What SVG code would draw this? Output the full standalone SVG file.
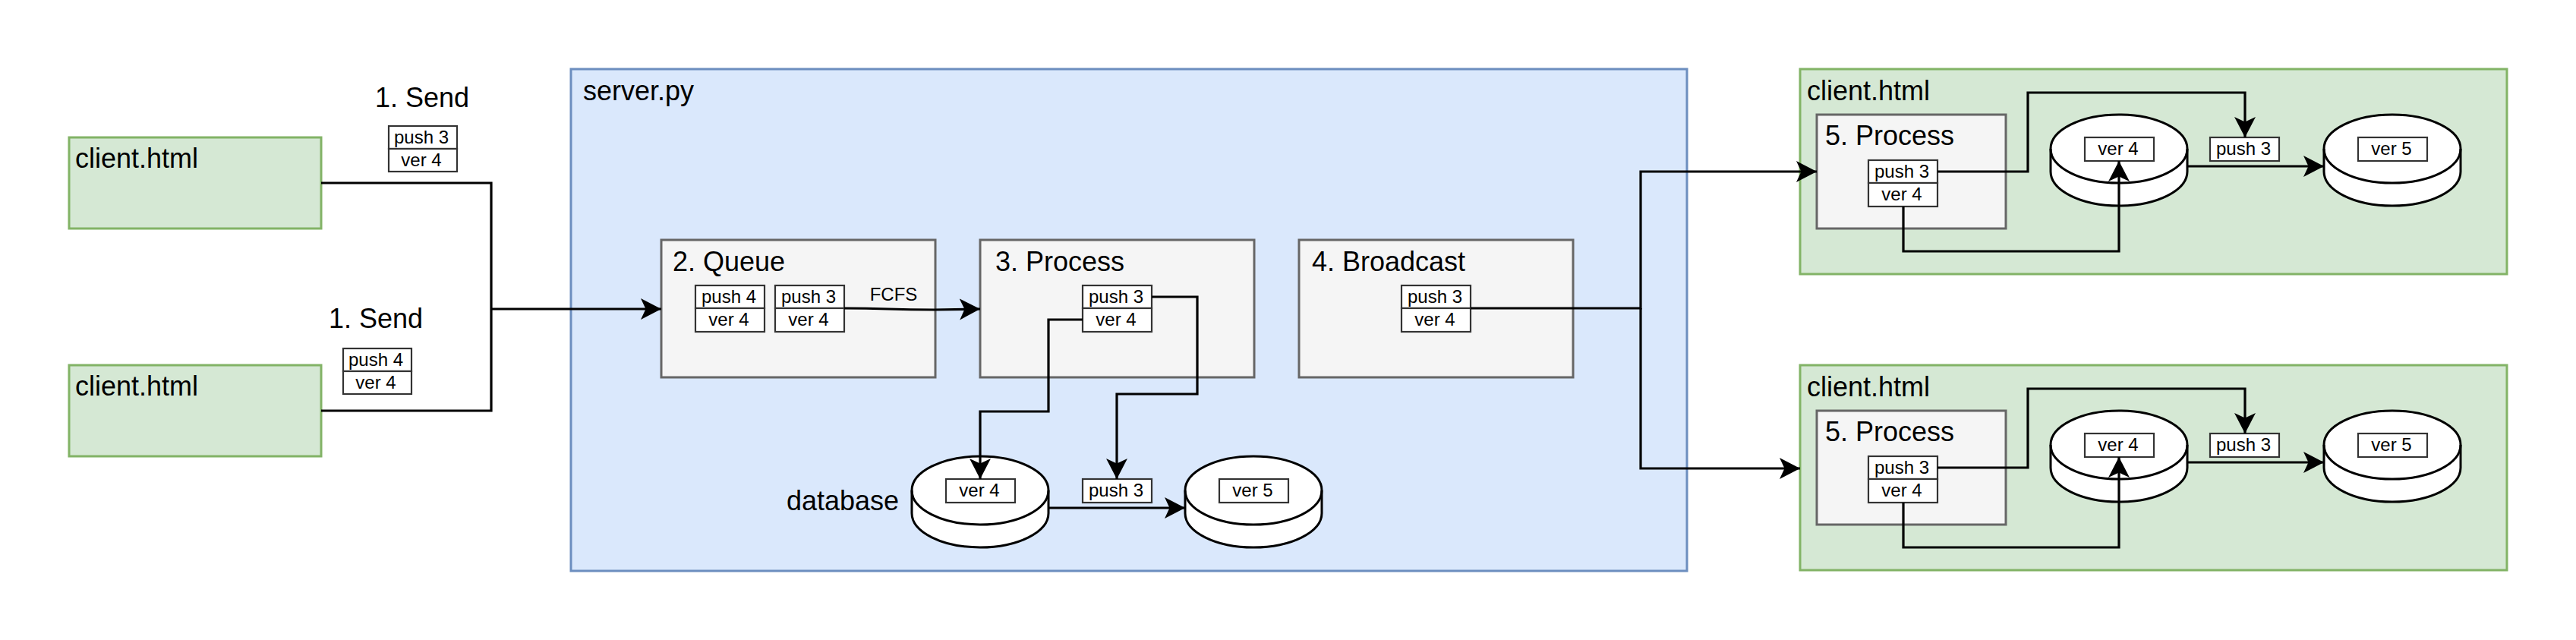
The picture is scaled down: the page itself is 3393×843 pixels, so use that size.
<svg xmlns="http://www.w3.org/2000/svg" xmlns:xlink="http://www.w3.org/1999/xlink" width="3393" height="843" viewBox="0 0 3393 843">
<style>
text{font-family:"Liberation Sans",Arial,sans-serif;fill:#000}
.t{font-size:36px}
.s{font-size:24px;text-anchor:middle}
.blue{fill:#dae8fc;stroke:#6c8ebf;stroke-width:3}
.green{fill:#d5e8d4;stroke:#82b366;stroke-width:3}
.gray{fill:#f5f5f5;stroke:#666;stroke-width:3}
.box{fill:#fff;stroke:#333;stroke-width:2.2}
.cyl{fill:#fff;stroke:#000;stroke-width:3}
.c{fill:none;stroke:#000;stroke-width:3.2;stroke-linejoin:miter}
</style>
<defs>
<marker id="a" markerUnits="userSpaceOnUse" markerWidth="30" markerHeight="30" refX="27" refY="14" orient="auto" viewBox="0 0 30 28"><path d="M0 0L27 14L0 28L6.5 14Z" fill="#000"/></marker>
<g id="cy"><path class="cyl" d="M0 45A90 45 0 0 1 180 45V75A90 45 0 0 1 0 75Z"/><path class="cyl" d="M0 45A90 45 0 0 0 180 45" style="fill:none"/></g>
</defs>
<rect id="server" class="blue" x="752" y="91" width="1470" height="661"/>
<text class="t" x="768" y="132">server.py</text>
<g id="client-a"><rect class="green" x="91" y="181" width="332" height="120"/><text class="t" x="99" y="221">client.html</text></g>
<g id="client-b"><rect class="green" x="91" y="481" width="332" height="120"/><text class="t" x="99" y="521">client.html</text></g>
<g id="send-a"><text class="t" x="556" y="141" text-anchor="middle">1. Send</text>
<rect class="box" x="512" y="166" width="90" height="30"/><rect class="box" x="512" y="196" width="90" height="30"/>
<text class="s" x="555" y="189">push 3</text><text class="s" x="555" y="219">ver 4</text></g>
<g id="send-b"><text class="t" x="495" y="432" text-anchor="middle">1. Send</text>
<rect class="box" x="452" y="459" width="90" height="30"/><rect class="box" x="452" y="489" width="90" height="30"/>
<text class="s" x="495" y="482">push 4</text><text class="s" x="495" y="512">ver 4</text></g>
<g id="queue"><rect class="gray" x="871" y="316" width="361" height="181"/><text class="t" x="886" y="357">2. Queue</text>
<rect class="box" x="916" y="376" width="91" height="30"/><rect class="box" x="916" y="406" width="91" height="31"/>
<text class="s" x="960" y="399">push 4</text><text class="s" x="960" y="429">ver 4</text>
<rect class="box" x="1021" y="376" width="91" height="30"/><rect class="box" x="1021" y="406" width="91" height="31"/>
<text class="s" x="1065" y="399">push 3</text><text class="s" x="1065" y="429">ver 4</text>
<text class="s" x="1177" y="396">FCFS</text></g>
<g id="process"><rect class="gray" x="1291" y="316" width="361" height="181"/><text class="t" x="1311" y="357">3. Process</text>
<rect class="box" x="1426" y="376" width="91" height="30"/><rect class="box" x="1426" y="406" width="91" height="31"/>
<text class="s" x="1470" y="399">push 3</text><text class="s" x="1470" y="429">ver 4</text></g>
<g id="broadcast"><rect class="gray" x="1711" y="316" width="361" height="181"/><text class="t" x="1728" y="357">4. Broadcast</text>
<rect class="box" x="1846" y="376" width="91" height="30"/><rect class="box" x="1846" y="406" width="91" height="31"/>
<text class="s" x="1890" y="399">push 3</text><text class="s" x="1890" y="429">ver 4</text></g>
<g id="database"><text class="t" x="1110" y="672" text-anchor="middle">database</text>
<use xlink:href="#cy" href="#cy" x="1201" y="601"/><rect class="box" x="1246" y="631" width="91" height="31"/><text class="s" x="1290" y="654">ver 4</text>
<rect class="box" x="1426" y="631" width="91" height="31"/><text class="s" x="1470" y="654">push 3</text>
<use xlink:href="#cy" href="#cy" x="1561" y="601"/><rect class="box" x="1606" y="631" width="91" height="31"/><text class="s" x="1650" y="654">ver 5</text></g>
<g id="client-c"><rect class="green" x="2371" y="91" width="931" height="270"/><text class="t" x="2380" y="132">client.html</text>
<rect class="gray" x="2393" y="151" width="249" height="150"/><text class="t" x="2404" y="191">5. Process</text>
<rect class="box" x="2461" y="211" width="91" height="30"/><rect class="box" x="2461" y="241" width="91" height="31"/>
<text class="s" x="2505" y="234">push 3</text><text class="s" x="2505" y="264">ver 4</text>
<use xlink:href="#cy" href="#cy" x="2701" y="151"/><rect class="box" x="2746" y="181" width="91" height="31"/><text class="s" x="2790" y="204">ver 4</text>
<rect class="box" x="2911" y="181" width="91" height="31"/><text class="s" x="2955" y="204">push 3</text>
<use xlink:href="#cy" href="#cy" x="3061" y="151"/><rect class="box" x="3106" y="181" width="91" height="31"/><text class="s" x="3150" y="204">ver 5</text></g>
<g id="client-d"><rect class="green" x="2371" y="481" width="931" height="270"/><text class="t" x="2380" y="522">client.html</text>
<rect class="gray" x="2393" y="541" width="249" height="150"/><text class="t" x="2404" y="581">5. Process</text>
<rect class="box" x="2461" y="601" width="91" height="30"/><rect class="box" x="2461" y="631" width="91" height="31"/>
<text class="s" x="2505" y="624">push 3</text><text class="s" x="2505" y="654">ver 4</text>
<use xlink:href="#cy" href="#cy" x="2701" y="541"/><rect class="box" x="2746" y="571" width="91" height="31"/><text class="s" x="2790" y="594">ver 4</text>
<rect class="box" x="2911" y="571" width="91" height="31"/><text class="s" x="2955" y="594">push 3</text>
<use xlink:href="#cy" href="#cy" x="3061" y="541"/><rect class="box" x="3106" y="571" width="91" height="31"/><text class="s" x="3150" y="594">ver 5</text></g>
<g id="connectors">
<path class="c" d="M423 241H647V541H423"/>
<path class="c" marker-end="url(#a)" d="M647 407H871"/>
<path class="c" marker-end="url(#a)" d="M1112 406C1170 406 1170 408 1230 408L1291 407"/>
<path class="c" marker-end="url(#a)" d="M1517 391H1577V519H1471V631"/>
<path class="c" marker-end="url(#a)" d="M1426 421H1381V542H1291V631"/>
<path class="c" marker-end="url(#a)" d="M1381 669H1561"/>
<path class="c" marker-end="url(#a)" d="M1937 406H2161V226H2393"/>
<path class="c" marker-end="url(#a)" d="M2161 406V617H2371"/>
<path class="c" marker-end="url(#a)" d="M2552 226H2671V122H2957V181"/>
<path class="c" marker-end="url(#a)" d="M2507 272V331H2791V212"/>
<path class="c" marker-end="url(#a)" d="M2881 219H3061"/>
<path class="c" marker-end="url(#a)" d="M2552 616H2671V512H2957V571"/>
<path class="c" marker-end="url(#a)" d="M2507 662V721H2791V602"/>
<path class="c" marker-end="url(#a)" d="M2881 609H3061"/>
</g>
</svg>
